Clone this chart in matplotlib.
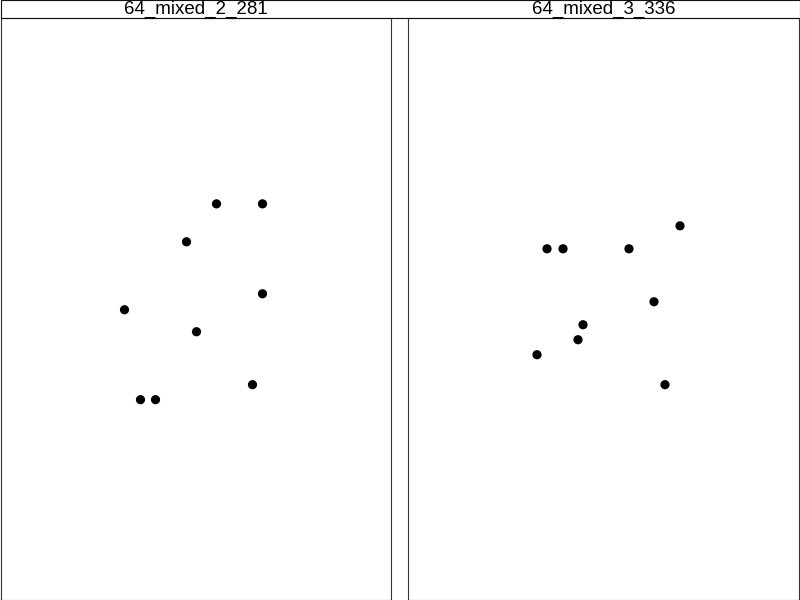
"""Two scatter panels with a shared title strip."""

import matplotlib

matplotlib.use("Agg")
import matplotlib.pyplot as plt
from matplotlib.patches import Rectangle

plt.rcParams["font.family"] = ["Liberation Sans", "DejaVu Sans"]

PANEL_TITLES = ["64_mixed_2_281", "64_mixed_3_336"]

# point positions in panel units (x from left edge, y from bottom edge)
LEFT_X = [216, 262, 186, 262, 124, 196, 252, 140, 155]
LEFT_Y = [396, 396, 358, 306, 290, 268, 215, 200, 200]

RIGHT_X = [272, 139, 155, 221, 246, 175, 170, 129, 257]
RIGHT_Y = [374, 351, 351, 351, 298, 275, 260, 245, 215]

SERIES = [(LEFT_X, LEFT_Y), (RIGHT_X, RIGHT_Y)]

W, H = 800, 600
STRIP = 18


def main():
    fig = plt.figure(figsize=(8, 6), dpi=100)
    lefts = [0.5, 408]
    widths = [390.5, 391]
    for title, (xs, ys), left, width in zip(PANEL_TITLES, SERIES, lefts, widths):
        ax = fig.add_axes([left / W, 0.5 / H, width / W, (H - STRIP - 0.5) / H])
        ax.scatter(xs, ys, s=44, color="black", edgecolors="none")
        ax.set_xlim(0, width)
        ax.set_ylim(0, 582)
        ax.set_xticks([])
        ax.set_yticks([])
        for spine in ax.spines.values():
            spine.set_linewidth(0.8)
            spine.set_color("#333333")
        fig.text((left + width / 2) / W, 1 - (STRIP / 2 + 0.5) / H, title,
                 ha="center", va="center", fontsize=13.5)
    strip = Rectangle((0.5 / W, 1 - STRIP / H), (W - 1) / W, (STRIP - 0.5) / H,
                      transform=fig.transFigure, fill=False,
                      linewidth=0.8, edgecolor="#111111")
    fig.patches.append(strip)
    fig.savefig("out.png", dpi=100)
    plt.close(fig)


if __name__ == "__main__":
    main()
